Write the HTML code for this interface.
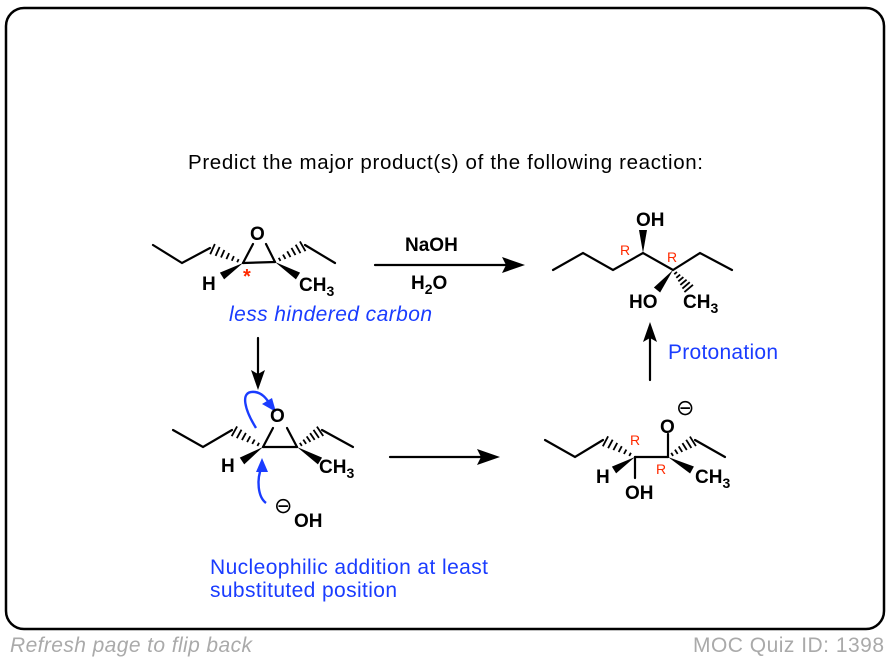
<!DOCTYPE html>
<html><head><meta charset="utf-8"><style>
html,body{margin:0;padding:0;background:#fff;}
svg{display:block;font-family:"Liberation Sans",Arial,sans-serif;}
.b{font-weight:bold;font-size:19px;fill:#000;}
.r{fill:#ff2a00;font-size:14px;}
.bl{fill:#1a3cff;font-size:21px;}
</style></head><body>
<svg id="s" width="892" height="662" viewBox="0 0 892 662" xmlns="http://www.w3.org/2000/svg">
<rect x="6" y="8" width="878" height="621" rx="18" ry="18" fill="#fff" stroke="#000" stroke-width="2.5"/>
<text x="188" y="169" font-size="20.5" textLength="515">Predict the major product(s) of the following reaction:</text>

<g stroke="#000" stroke-width="2.2" fill="none" stroke-linecap="round">
<polyline points="153,245 182,263 210,248"/>
<line x1="243" y1="263" x2="275" y2="262"/>
<line x1="243" y1="263" x2="253" y2="244"/>
<line x1="275" y1="262" x2="266" y2="244"/>
<line x1="305" y1="245" x2="335" y2="263"/>
<line x1="375" y1="265" x2="510" y2="265"/>
<polyline points="553,270 583,253 613,270 643,253 673,270 700,253 732,270"/>
<line x1="258" y1="338" x2="258" y2="375"/>
<line x1="650" y1="380" x2="650" y2="338"/>
<polyline points="173,430 203,447 232,430"/>
<line x1="263" y1="447" x2="297" y2="447"/>
<line x1="263" y1="447" x2="273" y2="428"/>
<line x1="297" y1="447" x2="287" y2="428"/>
<line x1="322" y1="430" x2="353" y2="447"/>
<line x1="390" y1="457" x2="485" y2="457"/>
<polyline points="545,440 575,457 603,440"/>
<line x1="635" y1="457" x2="668" y2="457"/>
<line x1="635" y1="457" x2="635" y2="478"/>
<line x1="668" y1="457" x2="668" y2="434"/>
<line x1="695" y1="440" x2="725" y2="457"/>
</g>
<g fill="#000">
<polygon points="525,265 502,257 506,265 502,273"/>
<polygon points="258,390 251,370 258,374 265,370"/>
<polygon points="650,322 643,342 650,338 657,342"/>
<polygon points="500,457 477,449 481,457 477,465"/>
</g>
<g id="hw"></g>

<g stroke="#1a3cff" stroke-width="2.4" fill="none">
<path d="M256,428 C246,412 238,390 255,392 C262,393 266,398 270,404"/>
<path d="M266,503 C258,497 256,480 262,466"/>
</g>
<g fill="#1a3cff">
<polygon points="276,412 262,404 272,398"/>
<polygon points="262,458 256,472 268,472"/>
</g>

<text class="b" x="250" y="240">O</text>
<text class="b" x="202" y="290">H</text>
<text class="b" x="299" y="291">CH<tspan font-size="14" dy="5">3</tspan></text>
<text x="243" y="283" fill="#ff2a00" font-size="20" font-weight="bold">*</text>
<text class="b" x="405" y="251">NaOH</text>
<text class="b" x="411" y="289">H<tspan font-size="14" dy="5">2</tspan><tspan dy="-5">O</tspan></text>
<text class="bl" x="229" y="321" font-style="italic" textLength="203">less hindered carbon</text>

<text class="b" x="636" y="226">OH</text>
<text class="r" x="620" y="255">R</text>
<text class="r" x="667" y="262">R</text>
<text class="b" x="629" y="308">HO</text>
<text class="b" x="683" y="308">CH<tspan font-size="14" dy="5">3</tspan></text>
<text class="bl" x="668" y="359" textLength="110">Protonation</text>

<text class="b" x="270" y="422">O</text>
<text class="b" x="221" y="472">H</text>
<text class="b" x="319" y="473">CH<tspan font-size="14" dy="5">3</tspan></text>
<text x="274" y="513" font-size="22">⊖</text>
<text class="b" x="294" y="527">OH</text>

<text class="r" x="630" y="445">R</text>
<text class="r" x="656" y="474">R</text>
<text class="b" x="596" y="483">H</text>
<text class="b" x="625" y="499">OH</text>
<text class="b" x="660" y="433">O</text>
<text x="676" y="415" font-size="22">⊖</text>
<text class="b" x="695" y="483">CH<tspan font-size="14" dy="5">3</tspan></text>

<text class="bl" x="210" y="574" textLength="278">Nucleophilic addition at least</text>
<text class="bl" x="210" y="597" textLength="187">substituted position</text>

<text x="10" y="652" font-size="21" font-style="italic" fill="#aaa" textLength="242">Refresh page to flip back</text>
<text x="693" y="652" font-size="21" fill="#aaa" textLength="191">MOC Quiz ID: 1398</text>
</svg>
<script>
var g=document.getElementById('hw'),NS='http://www.w3.org/2000/svg';
function hash(x1,y1,x2,y2){var dx=x2-x1,dy=y2-y1,L=Math.hypot(dx,dy),px=-dy/L,py=dx/L;for(var i=1;i<=6;i++){var t=i/6.5,w=1+t*5,cx=x1+dx*t,cy=y1+dy*t;var l=document.createElementNS(NS,'line');l.setAttribute('x1',cx+px*w);l.setAttribute('y1',cy+py*w);l.setAttribute('x2',cx-px*w);l.setAttribute('y2',cy-py*w);l.setAttribute('stroke','#000');l.setAttribute('stroke-width','1.8');g.appendChild(l);}}
function wedge(x1,y1,x2,y2){var dx=x2-x1,dy=y2-y1,L=Math.hypot(dx,dy),px=-dy/L*4,py=dx/L*4;var p=document.createElementNS(NS,'polygon');p.setAttribute('points',x1+','+y1+' '+(x2+px)+','+(y2+py)+' '+(x2-px)+','+(y2-py));p.setAttribute('fill','#000');g.appendChild(p);}
hash(243,263,210,248);hash(275,262,305,245);wedge(243,263,222,276);wedge(275,262,298,276);
wedge(643,253,643,230);wedge(673,270,657,290);hash(673,270,690,290);
hash(263,447,232,430);hash(297,447,322,430);wedge(263,447,242,461);wedge(297,447,320,461);
hash(635,457,603,440);wedge(635,457,614,470);hash(668,457,695,440);wedge(668,457,692,470);
</script>
</body></html>
